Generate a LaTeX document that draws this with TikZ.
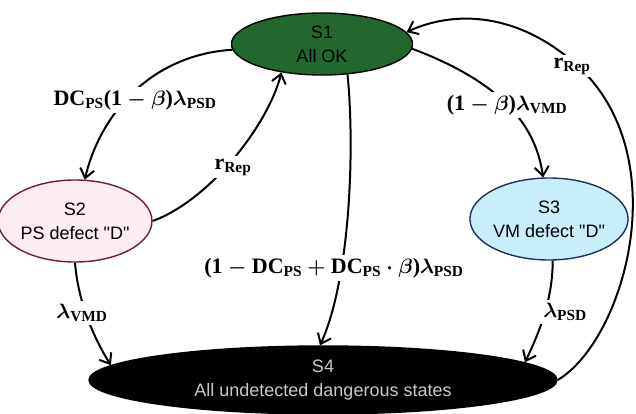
\documentclass[tikz,border=0pt]{standalone}
\usepackage{amsmath,amssymb,bm}
\usepackage{fontspec}
\setmainfont{Liberation Serif}
\setsansfont{Liberation Sans}[Ligatures=TeXOff]
\usepackage{tikz}
\usetikzlibrary{arrows.meta,shapes.geometric}
\definecolor{okgreen}{RGB}{34,102,48}
\definecolor{pspink}{RGB}{253,236,242}
\definecolor{psred}{RGB}{110,30,50}
\definecolor{vmblue}{RGB}{200,238,250}
\definecolor{vmnavy}{RGB}{30,50,90}
\definecolor{dgray}{RGB}{200,200,200}
\newcommand{\tb}[1]{\textbf{#1}}

\begin{document}
\begin{tikzpicture}[x=1pt,y=-1pt,
  state/.style={ellipse,line width=1.4pt,minimum width=130pt,minimum height=82pt,
    align=center,inner sep=0pt,font=\sffamily\fontsize{18}{24}\selectfont},
  trans/.style={line width=2pt,-{Straight Barb[length=3.2mm,width=5mm]}},
  lbl/.style={fill=white,inner sep=3pt,font=\fontsize{22}{24}\selectfont\boldmath}]
\useasboundingbox (0,0) rectangle (636,414);
% states
\node[state,fill=okgreen,draw=black,minimum width=181pt,minimum height=62pt] (s1) at (322,44) {S1\\All OK};
\node[state,fill=pspink,draw=psred] (s2) at (75,221) {S2\\PS defect "D"};
\node[state,fill=vmblue,draw=vmnavy,minimum width=128pt] (s3) at (549,219) {S3\\VM defect "D"};
\node[state,fill=black,draw=black,text=dgray,minimum width=468pt,minimum height=68pt] (s4) at (323,380) {S4\\All undetected dangerous states};
% transitions
\coordinate (rloop) at (571,60);
\draw[trans] (s1) .. controls (150,55) and (100,115) .. (s2);
\draw[trans] (s2.east) .. controls (210,200) and (268,125) .. (s1.215);
\draw[trans] (s1.-3) .. controls (495,80) and (535,120) .. (s3);
\draw[trans] (s1.-50) .. controls (355,150) and (350,280) .. (s4.95);
\draw[trans] (s2.south) .. controls (78,300) and (92,335) .. (s4.176);
\draw[trans] (s3.-85) .. controls (553,300) and (538,335) .. (s4.5);
\draw[trans] (s4.east) .. controls (625,340) and (680,150) .. (rloop) .. controls (511,10) and (450,12) .. (s1.8);
% rates
\node[lbl] (l12) at (135,100) {$\tb{DC}_{\tb{PS}}\tb{(1}-\beta\tb{)}\lambda_{\tb{PSD}}$};
\node[lbl] (l21) at (233,167) {$\tb{r}_{\tb{Rep}}$};
\node[lbl] (l13) at (507,105) {$\tb{(1}-\beta\tb{)}\lambda_{\tb{VMD}}$};
\node[lbl] (l41) at (572,66) {$\tb{r}_{\tb{Rep}}$};
\node[lbl] (l14) at (334,268) {$\tb{(1}-\tb{DC}_{\tb{PS}}+\tb{DC}_{\tb{PS}}\cdot\beta\tb{)}\lambda_{\tb{PSD}}$};
\node[lbl] (l24) at (82,313) {$\lambda_{\tb{VMD}}$};
\node[lbl] (l34) at (565,312) {$\lambda_{\tb{PSD}}$};
\end{tikzpicture}
\end{document}
